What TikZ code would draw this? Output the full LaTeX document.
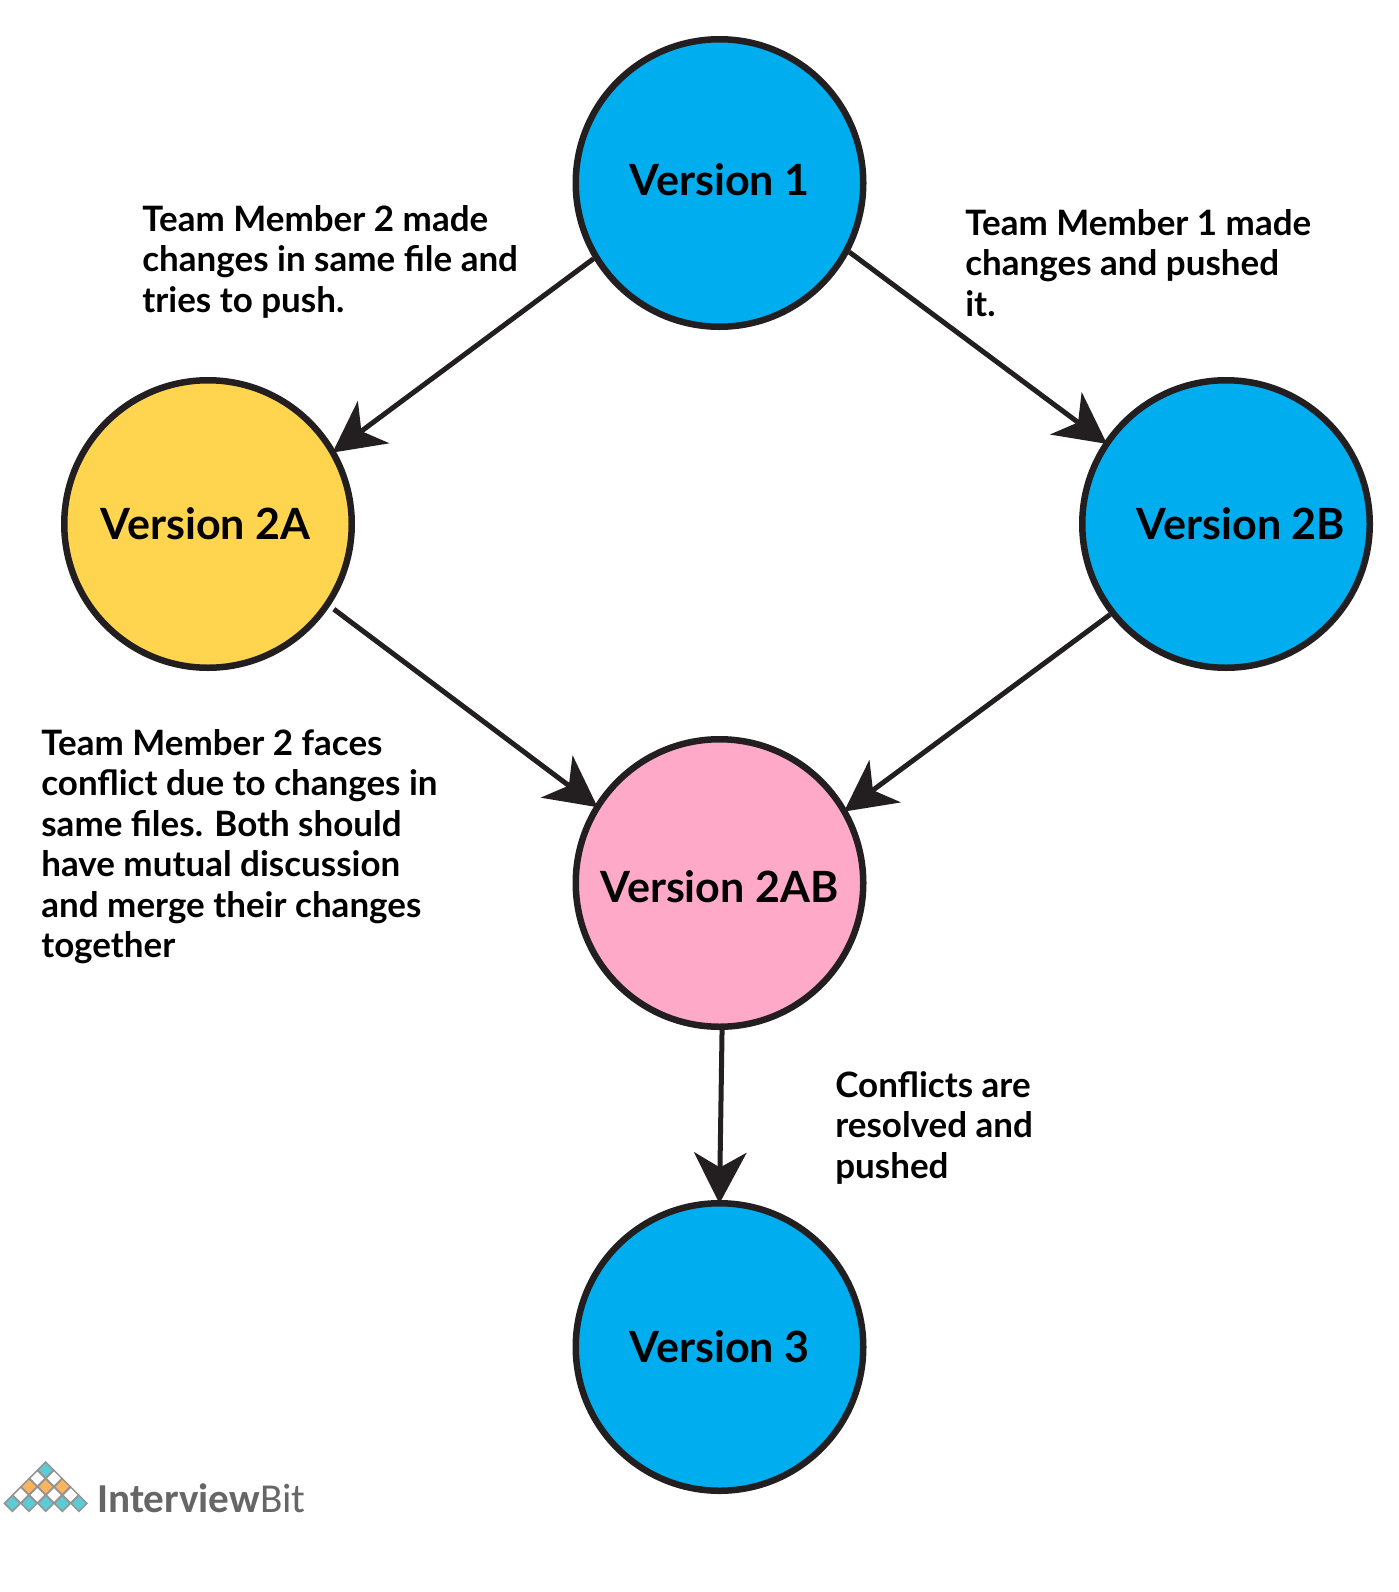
\documentclass[tikz,border=0pt]{standalone}
\usepackage{fontspec}
\usepackage{xcolor}
\usepackage{tikz}
\usetikzlibrary{positioning,arrows.meta}
\setmainfont{Lato}
\newfontfamily\logofont{Carlito}
\definecolor{strokeink}{HTML}{231F20}
\definecolor{verblue}{HTML}{00AEEF}
\definecolor{veryellow}{HTML}{FFD54F}
\definecolor{verpink}{HTML}{FFA9C9}
\definecolor{logoteal}{HTML}{5CCBD3}
\definecolor{logoorange}{HTML}{FDB45C}
\definecolor{logogray}{HTML}{666666}

\begin{document}
\begin{tikzpicture}[
        on grid,
        version/.style={
            circle,
            draw=strokeink,
            line width=6.5*0.02cm,
            text=black,
            inner sep=0pt,
            minimum size=5.75cm,
            font=\fontsize{24.5}{28}\selectfont\bfseries
        },
        note/.style={
            anchor=north west,
            align=left,
            inner sep=0pt,
            text=black,
            font=\fontsize{19.9}{23}\selectfont\bfseries
        },
        arrow/.style={
            -{Stealth[length=1.02cm,width=1.05cm,inset=0.3cm]},
            line width=5*0.02cm,
            color=strokeink,
            shorten >=-2pt
        },
        cellline/.style={draw=logogray!70, line width=0.03cm}
    ]
        \useasboundingbox (0,0) rectangle (27.96,-31.84);

        \node (v1) [version, fill=verblue] at (14.39,-3.66) {\raisebox{0.12cm}{Version 1}};
        \node (v2a) [version, fill=veryellow, below left=6.82cm and 10.23cm of v1] {\mbox{Version 2A\hspace{0.1cm}}};
        \node (v2b) [version, fill=verblue, below right=6.82cm and 10.13cm of v1] {\hspace{0.6cm}Version 2B};
        \node (v2ab) [version, fill=verpink, below=14cm of v1] {\rule{0pt}{0.78cm}Version 2AB};
        \node (v3) [version, fill=verblue, below=9.28cm of v2ab] {Version 3};

        \draw[arrow] (v1.211) -- (v2a.30);
        \draw[arrow] (v1.332) -- (v2b.146);
        \draw[arrow, shorten <=0.1cm] (v2a.326) -- (v2ab.148);
        \draw[arrow] (v2b.218) -- (v2ab.30);
        \draw[arrow] (v2ab.271) -- (v3.90);

        \node (n1) [note] at (2.84,-4.1) {Team Member 2 made\\changes in same file and\\tries to push.};
        \node (n2) [note] at (19.3,-4.18) {Team Member 1 made\\changes and pushed\\it.};
        \node (n3) [note] at (0.82,-14.58) {Team Member 2 faces\\conflict due to changes in\\same files. Both should\\have mutual discussion\\and merge their changes\\together};
        \node (n4) [note] at (16.7,-21.42) {Conflicts are\\resolved and\\pushed};

        % logo
        \foreach \r/\cellcol in {0/logoteal,1/white,2/logoorange,3/white,4/logoteal}
            \foreach \k in {0,...,\r}
                \draw[cellline, fill=\cellcol]
                    ({0.914+(2*\k-\r)*0.1667-0.16},{-29.4-\r*0.1667}) -- ++(0.16,0.16) -- ++(0.16,-0.16) -- ++(-0.16,-0.16) -- cycle;
        \node (logo) [anchor=base west, inner sep=0pt, text=logogray, font=\fontsize{23.4}{24}\selectfont\logofont] at (1.94,-30.24) {\textbf{Interview}Bit};
    \end{tikzpicture}
\end{document}
